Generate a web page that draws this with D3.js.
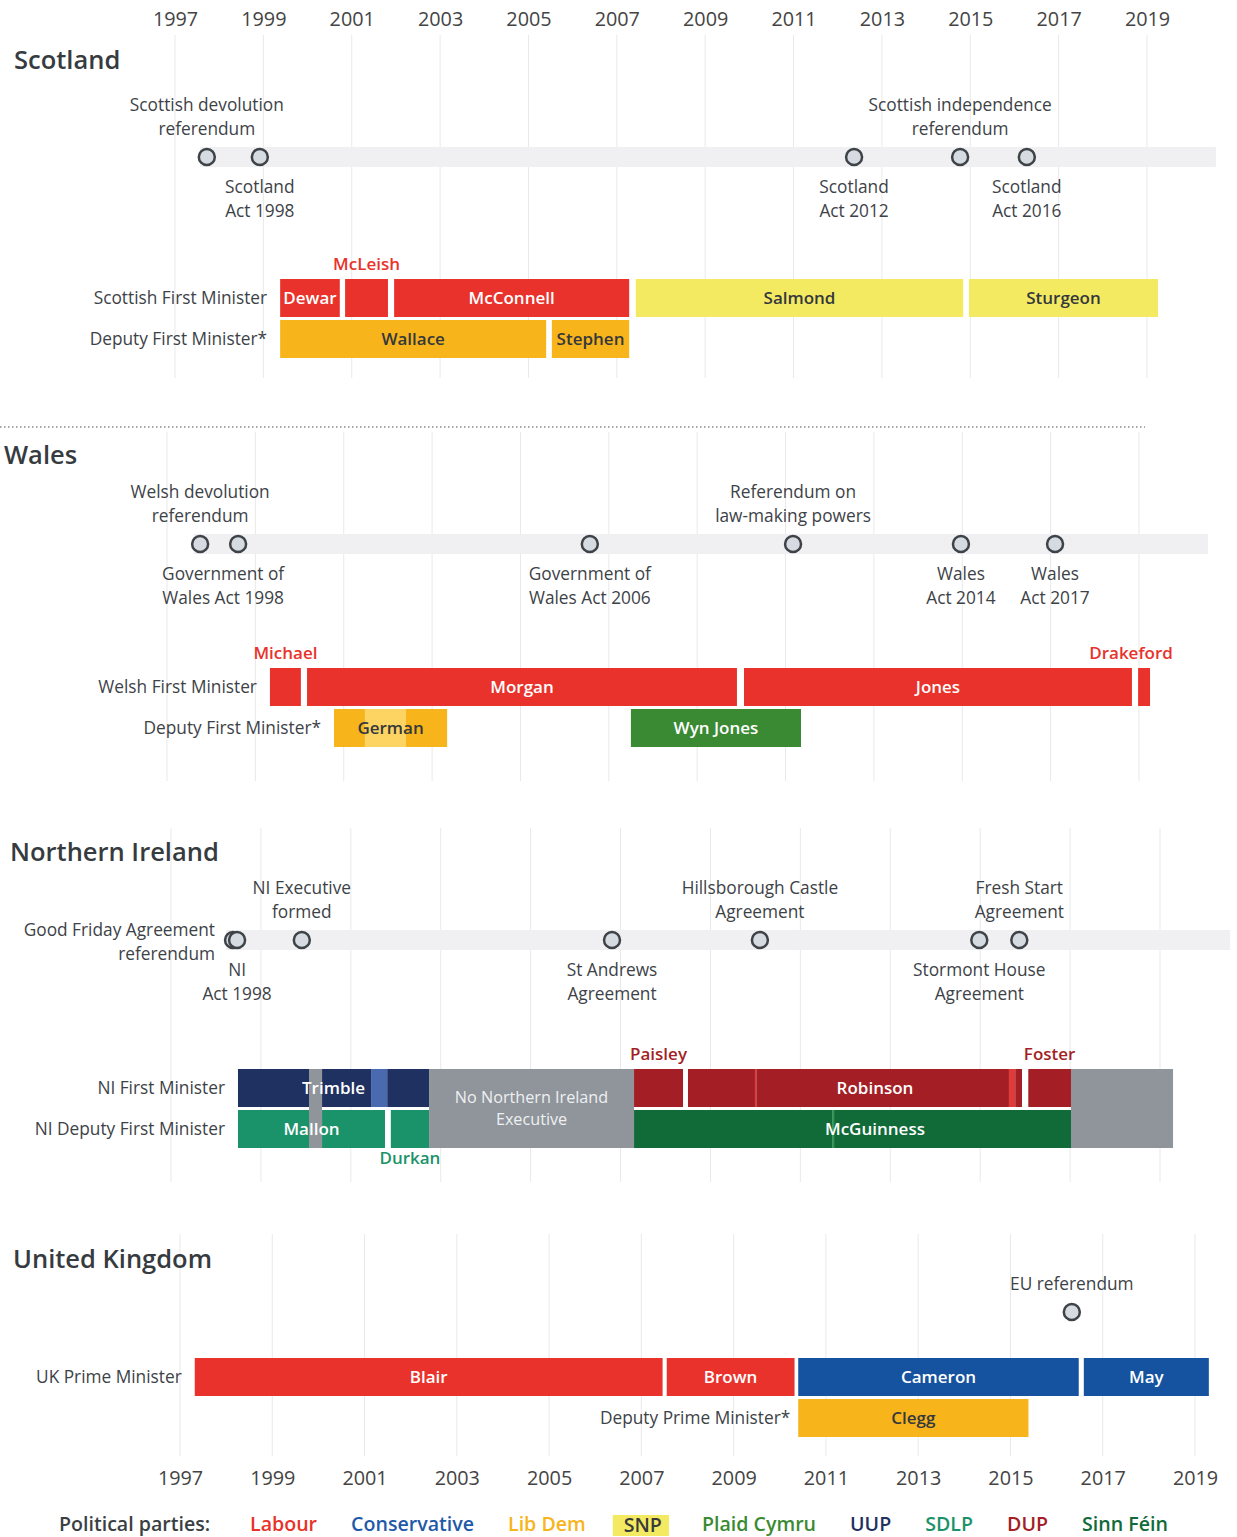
<!DOCTYPE html>
<html><head><meta charset="utf-8">
<script src="https://cdn.jsdelivr.net/npm/d3@7"></script>
<style>
body{margin:0;background:#fff;}
svg{display:block;font-family:"Open Sans",sans-serif;}
</style></head><body>
<svg id="chart" width="1237" height="1537"></svg>
<script>
// ---------------- DATA ----------------
const years = [1997,1999,2001,2003,2005,2007,2009,2011,2013,2015,2017,2019];
const parties = ["Labour","Conservative","Lib Dem","SNP","Plaid Cymru","UUP","SDLP","DUP","Sinn Féin"];

const scotlandEvents = [
  {label:["Scottish devolution","referendum"], date:1997.72, pos:"above"},
  {label:["Scotland","Act 1998"], date:1998.92, pos:"below"},
  {label:["Scotland","Act 2012"], date:2012.37, pos:"below"},
  {label:["Scottish independence","referendum"], date:2014.77, pos:"above"},
  {label:["Scotland","Act 2016"], date:2016.28, pos:"below"}
];
const scotlandRows = ["Scottish First Minister","Deputy First Minister*"];
const scotlandFirstMinister = [
  {name:"Dewar", party:"Labour", start:1999.38, end:2000.73},
  {name:"McLeish", party:"Labour", start:2000.85, end:2001.82, label:"above"},
  {name:"McConnell", party:"Labour", start:2001.96, end:2007.28},
  {name:"Salmond", party:"SNP", start:2007.43, end:2014.84},
  {name:"Sturgeon", party:"SNP", start:2014.97, end:2019.25}
];
const scotlandDeputy = [
  {name:"Wallace", party:"Lib Dem", start:1999.38, end:2005.40},
  {name:"Stephen", party:"Lib Dem", start:2005.53, end:2007.28}
];

const walesEvents = [
  {label:["Welsh devolution","referendum"], date:1997.75, pos:"above"},
  {label:["Government of","Wales Act 1998"], date:1998.61, pos:"below"},
  {label:["Government of","Wales Act 2006"], date:2006.57, pos:"below"},
  {label:["Referendum on","law-making powers"], date:2011.17, pos:"above"},
  {label:["Wales","Act 2014"], date:2014.97, pos:"below"},
  {label:["Wales","Act 2017"], date:2017.10, pos:"below"}
];
const walesRows = ["Welsh First Minister","Deputy First Minister*"];
const walesFirstMinister = [
  {name:"Michael", party:"Labour", start:1999.33, end:2000.03, label:"above"},
  {name:"Morgan", party:"Labour", start:2000.17, end:2009.90},
  {name:"Jones", party:"Labour", start:2010.06, end:2018.84},
  {name:"Drakeford", party:"Labour", start:2018.98, end:2019.25, label:"above", labelAt:2018.82}
];
const walesDeputy = [
  {name:"German", party:"Lib Dem", start:2000.78, end:2001.48},
  {name:"German", party:"Lib Dem (acting)", start:2001.48, end:2002.41},
  {name:"German", party:"Lib Dem", start:2002.41, end:2003.34},
  {name:"Wyn Jones", party:"Plaid Cymru", start:2007.50, end:2011.35}
];

const niEvents = [
  {label:["Good Friday Agreement","referendum"], date:1998.38, pos:"left"},
  {label:["NI","Act 1998"], date:1998.47, pos:"below"},
  {label:["NI Executive","formed"], date:1999.91, pos:"above"},
  {label:["St Andrews","Agreement"], date:2006.81, pos:"below"},
  {label:["Hillsborough Castle","Agreement"], date:2010.10, pos:"above"},
  {label:["Stormont House","Agreement"], date:2014.98, pos:"below"},
  {label:["Fresh Start","Agreement"], date:2015.87, pos:"above"}
];
const niRows = ["NI First Minister","NI Deputy First Minister"];
const niFirstMinister = [
  {name:"Trimble", party:"UUP", start:1998.49, end:2000.07},
  {name:"Trimble", party:"UUP", start:2000.36, end:2001.45},
  {name:"Trimble", party:"UUP (acting)", start:2001.45, end:2001.81},
  {name:"Trimble", party:"UUP", start:2001.81, end:2002.74},
  {name:"Paisley", party:"DUP", start:2007.30, end:2008.39, label:"above"},
  {name:"Robinson", party:"DUP", start:2008.50, end:2009.99, labelAt:2012.66},
  {name:"Robinson", party:"DUP (acting)", start:2009.99, end:2010.02},
  {name:"Robinson", party:"DUP", start:2010.02, end:2015.64},
  {name:"Robinson", party:"DUP (acting)", start:2015.64, end:2015.78},
  {name:"Robinson", party:"DUP", start:2015.78, end:2015.93},
  {name:"Foster", party:"DUP", start:2016.07, end:2017.02, label:"above"}
];
const niDeputy = [
  {name:"Mallon", party:"SDLP", start:1998.49, end:2000.07},
  {name:"Mallon", party:"SDLP", start:2000.36, end:2001.76},
  {name:"Durkan", party:"SDLP", start:2001.89, end:2002.74, label:"below"},
  {name:"McGuinness", party:"Sinn Féin", start:2007.30, end:2011.72, labelAt:2012.66},
  {name:"McGuinness", party:"Sinn Féin (acting)", start:2011.72, end:2011.75},
  {name:"McGuinness", party:"Sinn Féin", start:2011.75, end:2017.02}
];
const niNoExecutive = [
  {label:[], start:2000.07, end:2000.36},
  {label:["No Northern Ireland","Executive"], start:2002.74, end:2007.30},
  {label:[], start:2017.02, end:2019.29}
];

const ukEvents = [
  {label:["EU referendum"], date:2016.33, pos:"above"}
];
const ukRows = ["UK Prime Minister","Deputy Prime Minister*"];
const ukPrimeMinister = [
  {name:"Blair", party:"Labour", start:1997.32, end:2007.46},
  {name:"Brown", party:"Labour", start:2007.55, end:2010.32},
  {name:"Cameron", party:"Conservative", start:2010.40, end:2016.48},
  {name:"May", party:"Conservative", start:2016.59, end:2019.30}
];
const ukDeputy = [
  {name:"Clegg", party:"Lib Dem", start:2010.40, end:2015.39}
];
const timelineEnd = 2020.56;

// ---------------- STYLE ----------------
const partyColor = {
  "Labour":"#e8322b","Conservative":"#1553a0","Lib Dem":"#f8b41b","Lib Dem (acting)":"#fdd462",
  "SNP":"#f4ea62","Plaid Cymru":"#3a8a33","UUP":"#1f3160","UUP (acting)":"#4a6ab0",
  "SDLP":"#1b936a","DUP":"#a31f25","DUP (acting)":"#e03a3a","Sinn Féin":"#116b39",
  "Sinn Féin (acting)":"#2a9a4a"
};
const legendTextColor = {
  "Labour":"#e8322b","Conservative":"#1f5aa8","Lib Dem":"#f8b41b","SNP":"#3a3a3a",
  "Plaid Cymru":"#3a8a33","UUP":"#1f3160","SDLP":"#1b936a","DUP":"#a31f25","Sinn Féin":"#116b39"
};
const darkTextParties = ["Lib Dem","Lib Dem (acting)","SNP"];
const textCol = "#3d4247";
const grey = "#8f959a";
const labelNudge = {"Government of|Wales Act 1998": -15};
const rowLabelGap = {"Deputy Prime Minister*": 8};
const labelSize = 17.3;

const svg = d3.select("#chart");

const sections = [
  {title:"Scotland", titleY:60, x0:175, x1:1147, gridTop:35, gridBottom:378, eventY:157, band:true,
   events:scotlandEvents, rowNames:scotlandRows, rows:[scotlandFirstMinister, scotlandDeputy], rowTop:279, topAxis:true},
  {title:"Wales", titleY:455, titleX:4, x0:167, x1:1139, gridTop:432, gridBottom:781, eventY:544, band:true,
   events:walesEvents, rowNames:walesRows, rows:[walesFirstMinister, walesDeputy], rowTop:668},
  {title:"Northern Ireland", titleY:852, titleX:10, x0:171, x1:1160, gridTop:828, gridBottom:1182, eventY:940, band:true,
   events:niEvents, rowNames:niRows, rows:[niFirstMinister, niDeputy], rowTop:1069, noExec:niNoExecutive},
  {title:"United Kingdom", titleY:1259, titleX:13, x0:180, x1:1195, gridTop:1234, gridBottom:1456, eventY:1312, band:false,
   events:ukEvents, rowNames:ukRows, rows:[ukPrimeMinister, ukDeputy], rowTop:1358, bottomAxis:true}
];

const barH = 38, rowPitch = 41;

sections.forEach(cfg => {
  const x = d3.scaleLinear().domain([1997, 2019]).range([cfg.x0, cfg.x1]);
  const g = svg.append("g");

  // gridlines
  g.append("g").selectAll("line").data(years).join("line")
    .attr("x1", d => x(d)).attr("x2", d => x(d))
    .attr("y1", cfg.gridTop).attr("y2", cfg.gridBottom)
    .attr("stroke", "#e9e9eb").attr("stroke-width", 1);

  // title
  g.append("text").attr("x", cfg.titleX || 14).attr("y", cfg.titleY).attr("dy", "0.35em")
    .attr("font-size", 25.5).attr("font-weight", 600).attr("fill", "#363b40").text(cfg.title);

  // axes
  const styleAxis = ax => {
    ax.select(".domain").remove();
    ax.attr("font-family", null).attr("font-size", null);
    ax.selectAll("text").attr("y", 0).attr("dy", "0.35em").attr("font-size", 19.8).attr("fill", "#444");
  };
  if (cfg.topAxis) {
    g.append("g").attr("transform", "translate(0,19)")
      .call(d3.axisTop(x).tickValues(years).tickFormat(d3.format("d")).tickSize(0).tickPadding(0))
      .call(styleAxis);
  }
  if (cfg.bottomAxis) {
    g.append("g").attr("transform", "translate(0,1478)")
      .call(d3.axisBottom(x).tickValues(years).tickFormat(d3.format("d")).tickSize(0).tickPadding(0))
      .call(styleAxis);
  }

  // band
  if (cfg.band) {
    const bs = d3.min(cfg.events, e => e.date) - 0.15;
    g.append("rect").attr("x", x(bs)).attr("width", x(timelineEnd) - x(bs))
      .attr("y", cfg.eventY - 10).attr("height", 20).attr("fill", "#f0f0f2");
  }

  // events
  const ev = g.append("g");
  ev.selectAll("circle").data(cfg.events).join("circle")
    .attr("cx", d => x(d.date)).attr("cy", cfg.eventY).attr("r", 8)
    .attr("fill", "#d6dae1").attr("stroke", "#3e4348").attr("stroke-width", 2.5);
  cfg.events.forEach(e => {
    const n = e.label.length;
    const nudge = labelNudge[e.label.join("|")] || 0;
    let cx = x(e.date) + nudge, anchor = "middle", ys;
    if (e.pos === "above") ys = e.label.map((l, i) => cfg.eventY - 28 - (n - 1 - i) * 24);
    else if (e.pos === "below") ys = e.label.map((l, i) => cfg.eventY + 30 + i * 24);
    else { anchor = "end"; cx = x(e.date) - 18; ys = e.label.map((l, i) => cfg.eventY - 10 + i * 24); }
    e.label.forEach((l, i) => {
      ev.append("text").attr("x", cx).attr("y", ys[i]).attr("dy", "0.35em")
        .attr("text-anchor", anchor).attr("font-size", labelSize).attr("fill", textCol).text(l);
    });
  });

  // no executive periods spanning both rows (drawn beneath the labels)
  const ng = g.append("g");
  if (cfg.noExec) {
    ng.selectAll("rect").data(cfg.noExec).join("rect")
      .attr("x", d => x(d.start)).attr("width", d => x(d.end) - x(d.start))
      .attr("y", cfg.rowTop).attr("height", rowPitch + barH).attr("fill", grey);
    cfg.noExec.forEach(d => {
      d.label.forEach((l, i) => {
        ng.append("text").attr("x", (x(d.start) + x(d.end)) / 2)
          .attr("y", cfg.rowTop + (rowPitch + barH) / 2 - 11 + i * 22).attr("dy", "0.35em")
          .attr("text-anchor", "middle").attr("font-size", 16.2)
          .attr("fill", "#eef0f2").text(l);
      });
    });
  }

  // rows
  cfg.rows.forEach((row, i) => {
    const top = cfg.rowTop + i * rowPitch;
    const rg = g.insert("g", () => ng.node());
    rg.selectAll("rect").data(row).join("rect")
      .attr("x", d => x(d.start)).attr("width", d => x(d.end) - x(d.start))
      .attr("y", top).attr("height", barH).attr("fill", d => partyColor[d.party]);
    // row label
    const firstStart = d3.min(row, d => d.start);
    const gap = rowLabelGap[cfg.rowNames[i]] || 13;
    g.append("text").attr("x", x(firstStart) - gap).attr("y", top + barH / 2).attr("dy", "0.35em")
      .attr("text-anchor", "end").attr("font-size", labelSize)
      .attr("fill", textCol).text(cfg.rowNames[i]);
    // person labels
    d3.groups(row, d => d.name).forEach(([name, segs]) => {
      const s = d3.min(segs, d => d.start), e = d3.max(segs, d => d.end);
      const lab = segs.find(d => d.label);
      const at = segs.find(d => d.labelAt);
      const cx = at ? x(at.labelAt) : (x(s) + x(e)) / 2;
      const mainParty = segs[0].party;
      const pos = lab ? lab.label : "in";
      let y, fill;
      if (pos === "above") { y = top - 15; fill = partyColor[mainParty]; }
      else if (pos === "below") { y = top + barH + 10; fill = partyColor[mainParty]; }
      else { y = top + barH / 2; fill = darkTextParties.includes(mainParty) ? "#34383c" : "#ffffff"; }
      g.append("text").attr("x", cx).attr("y", y).attr("dy", "0.35em").attr("text-anchor", "middle")
        .attr("font-size", 17).attr("font-weight", 600)
        .attr("fill", fill).text(name);
    });
  });
});

// separator
svg.append("line").attr("x1", 0).attr("x2", 1145).attr("y1", 427).attr("y2", 427)
  .attr("stroke", "#555").attr("stroke-width", 1.2).attr("stroke-dasharray", "1.5,2.5");

// legend
const lg = svg.append("g");
const ly = 1524, lsize = 19.6;
lg.append("text").attr("x", 59).attr("y", ly).attr("dy", "0.35em").attr("font-size", lsize)
  .attr("font-weight", 600).attr("fill", "#3a3f44").text("Political parties:");
let lx = 250;
parties.forEach(p => {
  if (p === "SNP") {
    lx -= 7;
    const t = lg.append("text").attr("x", lx + 11).attr("y", ly + 1).attr("dy", "0.35em").attr("font-size", lsize)
      .attr("font-weight", 600).attr("fill", legendTextColor[p]).text(p);
    const w = t.node().getComputedTextLength();
    lg.insert("rect", "text").attr("x", lx).attr("y", ly - 9).attr("width", w + 18).attr("height", 21)
      .attr("fill", partyColor[p]);
    lx += w + 18 + 33;
  } else {
    const t = lg.append("text").attr("x", lx).attr("y", ly).attr("dy", "0.35em").attr("font-size", lsize)
      .attr("font-weight", 600).attr("fill", legendTextColor[p]).text(p);
    lx += t.node().getComputedTextLength() + 34;
  }
});
</script>
</body></html>
